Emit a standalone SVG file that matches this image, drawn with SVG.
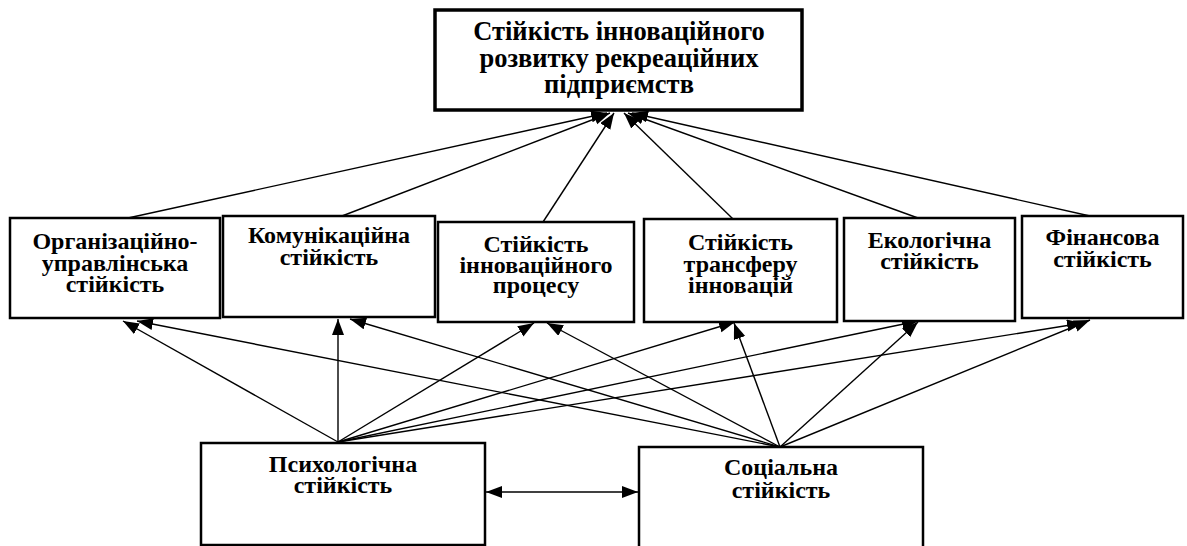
<svg xmlns="http://www.w3.org/2000/svg" width="1187" height="546" viewBox="0 0 1187 546">
<style>
.box{fill:#fff;stroke:#000;stroke-width:2.5}
.top{fill:#fff;stroke:#000;stroke-width:3.5}
text{font-family:"Liberation Serif","Times New Roman",serif;font-weight:bold;font-size:24px;fill:#000;text-anchor:middle}
.big{font-size:26.5px}
.c line{stroke:#000;stroke-width:1.4;marker-end:url(#ah)}
</style>
<defs>
<marker id="ah" markerUnits="userSpaceOnUse" markerWidth="17" markerHeight="13" refX="16" refY="6" orient="auto-start-reverse">
<path d="M0,0 L16,6 L0,12 z" fill="#000"/>
</marker>
</defs>
<rect width="1187" height="546" fill="#fff"/>
<g id="connectors" class="c">
<line x1="128" y1="218" x2="607" y2="113"/>
<line x1="342" y1="216" x2="610" y2="113"/>
<line x1="543" y1="222" x2="614" y2="113"/>
<line x1="733" y1="219" x2="624" y2="113"/>
<line x1="918" y1="218" x2="628" y2="113"/>
<line x1="1090" y1="216" x2="632" y2="113"/>
<line x1="338" y1="442" x2="123" y2="321"/>
<line x1="338" y1="442" x2="338" y2="319"/>
<line x1="338" y1="442" x2="534" y2="323"/>
<line x1="338" y1="442" x2="735" y2="322"/>
<line x1="338" y1="442" x2="918" y2="321"/>
<line x1="338" y1="442" x2="1083" y2="323"/>
<line x1="780" y1="447" x2="137" y2="321"/>
<line x1="780" y1="447" x2="350" y2="319"/>
<line x1="780" y1="447" x2="547" y2="323"/>
<line x1="780" y1="447" x2="734" y2="323"/>
<line x1="780" y1="447" x2="918" y2="322"/>
<line x1="780" y1="447" x2="1090" y2="320"/>
<line x1="486" y1="492" x2="638" y2="492" style="marker-start:url(#ah)"/>
</g>
<g id="n-top">
<rect class="top" x="435" y="10" width="367" height="100"/>
<text class="big" x="619" y="40">Стійкість інноваційного</text>
<text class="big" x="619" y="66.7">розвитку рекреаційних</text>
<text class="big" x="619" y="93.3">підприємств</text>
</g>
<g id="n-org">
<rect class="box" x="10" y="218" width="210" height="100"/>
<text x="115" y="249.3">Організаційно-</text>
<text x="115" y="270.7">управлінська</text>
<text x="115" y="291.7">стійкість</text>
</g>
<g id="n-kom">
<rect class="box" x="223" y="216" width="212" height="101"/>
<text x="329" y="243.3">Комунікаційна</text>
<text x="329" y="265">стійкість</text>
</g>
<g id="n-proc">
<rect class="box" x="438" y="222" width="196" height="100"/>
<text x="536" y="251.7">Стійкість</text>
<text x="536" y="273.3">інноваційного</text>
<text x="536" y="293.3">процесу</text>
</g>
<g id="n-trans">
<rect class="box" x="644" y="219" width="193" height="103"/>
<text x="740.5" y="250">Стійкість</text>
<text x="740.5" y="271.7">трансферу</text>
<text x="740.5" y="293.3">інновацій</text>
</g>
<g id="n-eco">
<rect class="box" x="844" y="218" width="171" height="103"/>
<text x="929.5" y="248.3">Екологічна</text>
<text x="929.5" y="269.3">стійкість</text>
</g>
<g id="n-fin">
<rect class="box" x="1022" y="216" width="161" height="102"/>
<text x="1102.5" y="245">Фінансова</text>
<text x="1102.5" y="266.7">стійкість</text>
</g>
<g id="n-psy">
<rect class="box" x="201" y="443" width="284" height="102"/>
<text x="343" y="471.7">Психологічна</text>
<text x="343" y="493.3">стійкість</text>
</g>
<g id="n-soc">
<rect class="box" x="639" y="447" width="284" height="110"/>
<text x="781" y="475">Соціальна</text>
<text x="781" y="498">стійкість</text>
</g>
</svg>
